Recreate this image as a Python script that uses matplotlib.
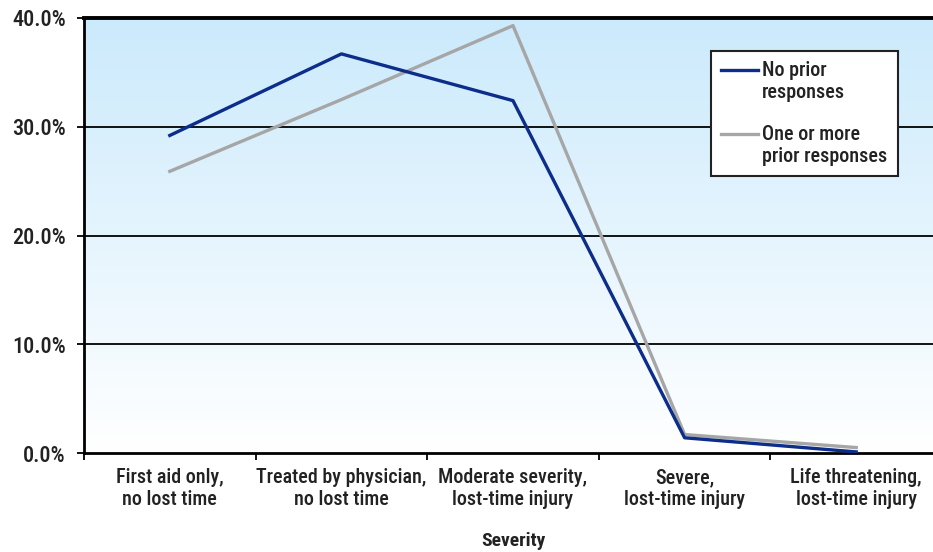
import numpy as np
import matplotlib
matplotlib.use("Agg")
import matplotlib.pyplot as plt
from matplotlib.colors import LinearSegmentedColormap
from matplotlib.legend_handler import HandlerLine2D
import logging
logging.getLogger('matplotlib.font_manager').setLevel(logging.ERROR)

categories = ["First aid only,\nno lost time", "Treated by physician,\nno lost time",
              "Moderate severity,\nlost-time injury", "Severe,\nlost-time injury",
              "Life threatening,\nlost-time injury"]
no_prior = [29.2, 36.7, 32.4, 1.4, 0.1]
one_or_more = [25.9, 32.5, 39.3, 1.7, 0.5]
yticks = [0, 10, 20, 30, 40]
ytick_labels = ["0.0%", "10.0%", "20.0%", "30.0%", "40.0%"]

plt.rcParams['font.family'] = ['Liberation Sans Narrow', 'Roboto Condensed', 'Liberation Sans', 'DejaVu Sans']


class UpHandler(HandlerLine2D):
    def create_artists(self, legend, orig_handle, xdescent, ydescent, width,
                       height, fontsize, trans):
        arts = super().create_artists(legend, orig_handle, xdescent, ydescent,
                                      width, height, fontsize, trans)
        for a in arts:
            a.set_ydata(np.asarray(a.get_ydata(), dtype=float) + 0.62 * fontsize)
        return arts


fig = plt.figure(figsize=(9.33, 5.52), dpi=100)
ax = fig.add_axes([84/933, 99/552, (942-84)/933, (453-18)/552])

x = np.arange(len(categories))

cmap = LinearSegmentedColormap.from_list("bg", ["#cbeafc", "#ffffff"])
grad = np.linspace(0, 1, 256).reshape(-1, 1)
ax.imshow(grad, cmap=cmap, aspect='auto', extent=[-0.5, 4.5, 0, 40],
          origin='upper', zorder=0, interpolation='bilinear')
ax.set_xlim(-0.5, 4.5)
ax.set_ylim(0, 40)

for yv in [10, 20, 30]:
    ax.axhline(yv, color='black', lw=1.3, zorder=1)

ax.plot(x, no_prior, color='#0d2d8a', lw=2.4, zorder=3, label='No prior\nresponses')
ax.plot(x, one_or_more, color='#a6a6a6', lw=2.4, zorder=2, label='One or more\nprior responses')

ax.set_yticks(yticks)
ax.set_yticklabels(ytick_labels, fontsize=16, color='#222222', fontweight='medium')
ax.set_xticks(x)
ax.set_xticklabels(categories, fontsize=14.5, color='#222222', fontweight='medium')
ax.tick_params(axis='x', which='major', length=0, pad=11)
ax.set_xticks(np.arange(-0.5, 4.6, 1), minor=True)
ax.tick_params(axis='x', which='minor', length=5, width=1.3, direction='out')
ax.tick_params(axis='y', length=5, width=1.3, direction='out', pad=8)

for s in ['left', 'bottom', 'top']:
    ax.spines[s].set_linewidth(2.0)
    ax.spines[s].set_color('black')
ax.spines['right'].set_visible(False)
ax.spines['top'].set_linewidth(2.8)

ax.set_xlabel("Severity", fontsize=14, fontweight='bold', labelpad=16, color='#222222')

leg = ax.legend(loc='upper left', bbox_to_anchor=(711/933, 1 - 51/552),
                bbox_transform=fig.transFigure, fontsize=14.5, frameon=True,
                fancybox=False, edgecolor='#222222', handlelength=1.85,
                labelspacing=1.15, borderpad=0.5, handletextpad=0.2, borderaxespad=0,
                handler_map={plt.Line2D: UpHandler()})
leg.get_frame().set_linewidth(1.5)
leg.get_frame().set_facecolor('white')
leg.get_frame().set_alpha(1)
for t in leg.get_texts():
    t.set_color('#222222')
    t.set_fontweight('medium')

fig.savefig("out.png", dpi=100)
